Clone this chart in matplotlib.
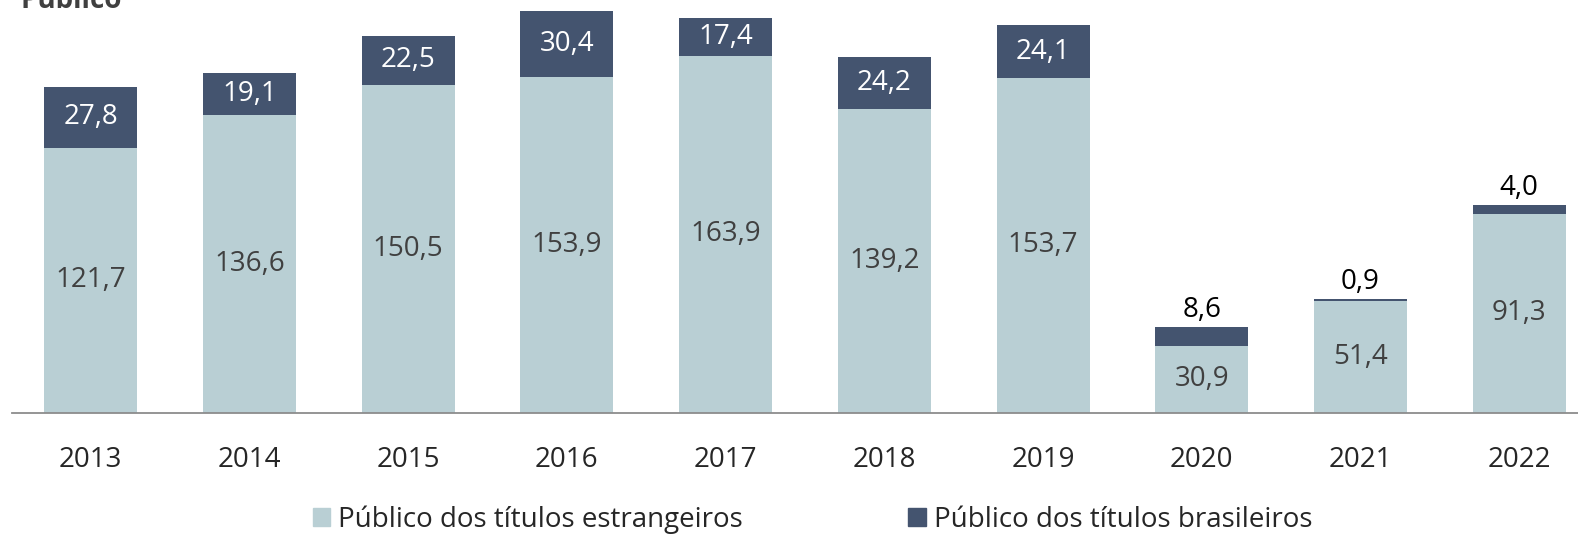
import numpy as np
import matplotlib.pyplot as plt
from matplotlib.patches import Patch

plt.rcParams['font.family'] = ['Open Sans', 'DejaVu Sans']

anos = ["2013", "2014", "2015", "2016", "2017", "2018", "2019", "2020", "2021", "2022"]
estrangeiros = [121.7, 136.6, 150.5, 153.9, 163.9, 139.2, 153.7, 30.9, 51.4, 91.3]
brasileiros = [27.8, 19.1, 22.5, 30.4, 17.4, 24.2, 24.1, 8.6, 0.9, 4.0]

cor_claro = "#B9CFD4"
cor_escuro = "#44546F"
fs = 20


def fmt(v):
    return "{:.1f}".format(v).replace(".", ",")


fig = plt.figure(figsize=(15.78, 5.36), dpi=100)
ax = fig.add_axes([12/1578, 1-413/536, 1566/1578, 413/536])

x = np.arange(len(anos))
w = 0.586
ax.bar(x, estrangeiros, w, color=cor_claro, zorder=2)
ax.bar(x, brasileiros, w, bottom=estrangeiros, color=cor_escuro, zorder=2)

for i in range(len(anos)):
    e = estrangeiros[i]
    b = brasileiros[i]
    ax.text(x[i], e/2, fmt(e), ha="center", va="center", fontsize=fs, color="#404040")
    if b > 15:
        ax.text(x[i], e + b/2, fmt(b), ha="center", va="center", fontsize=fs, color="white")
    else:
        ax.annotate(fmt(b), (x[i], e + b), xytext=(0, 2), textcoords="offset points",
                    ha="center", va="bottom", fontsize=fs, color="black")

ax.set_xlim(-0.495, 9.37)
ax.set_ylim(0, 189.4)
for s in ["top", "right", "left"]:
    ax.spines[s].set_visible(False)
ax.spines["bottom"].set_color("#8C8C8C")
ax.spines["bottom"].set_linewidth(1.3)
ax.set_yticks([])
ax.set_xticks(x)
ax.set_xticklabels(anos, fontsize=fs, color="#262626")
ax.tick_params(axis="x", length=0, pad=24)

# titulo cortado no topo, como no original
fig.text(0.013, 1-8/536, "Público", fontsize=fs, fontweight="bold", color="#404040", va="baseline")

handles = [Patch(color=cor_claro, label="Público dos títulos estrangeiros"),
           Patch(color=cor_escuro, label="Público dos títulos brasileiros")]
fig.legend(handles=handles, loc="center", bbox_to_anchor=(0.515, 1-520/536), ncol=2,
           frameon=False, fontsize=fs, handlelength=0.62, handleheight=0.62,
           handletextpad=0.3, columnspacing=5.95, labelcolor="#262626")

fig.savefig("out.png", dpi=100)
